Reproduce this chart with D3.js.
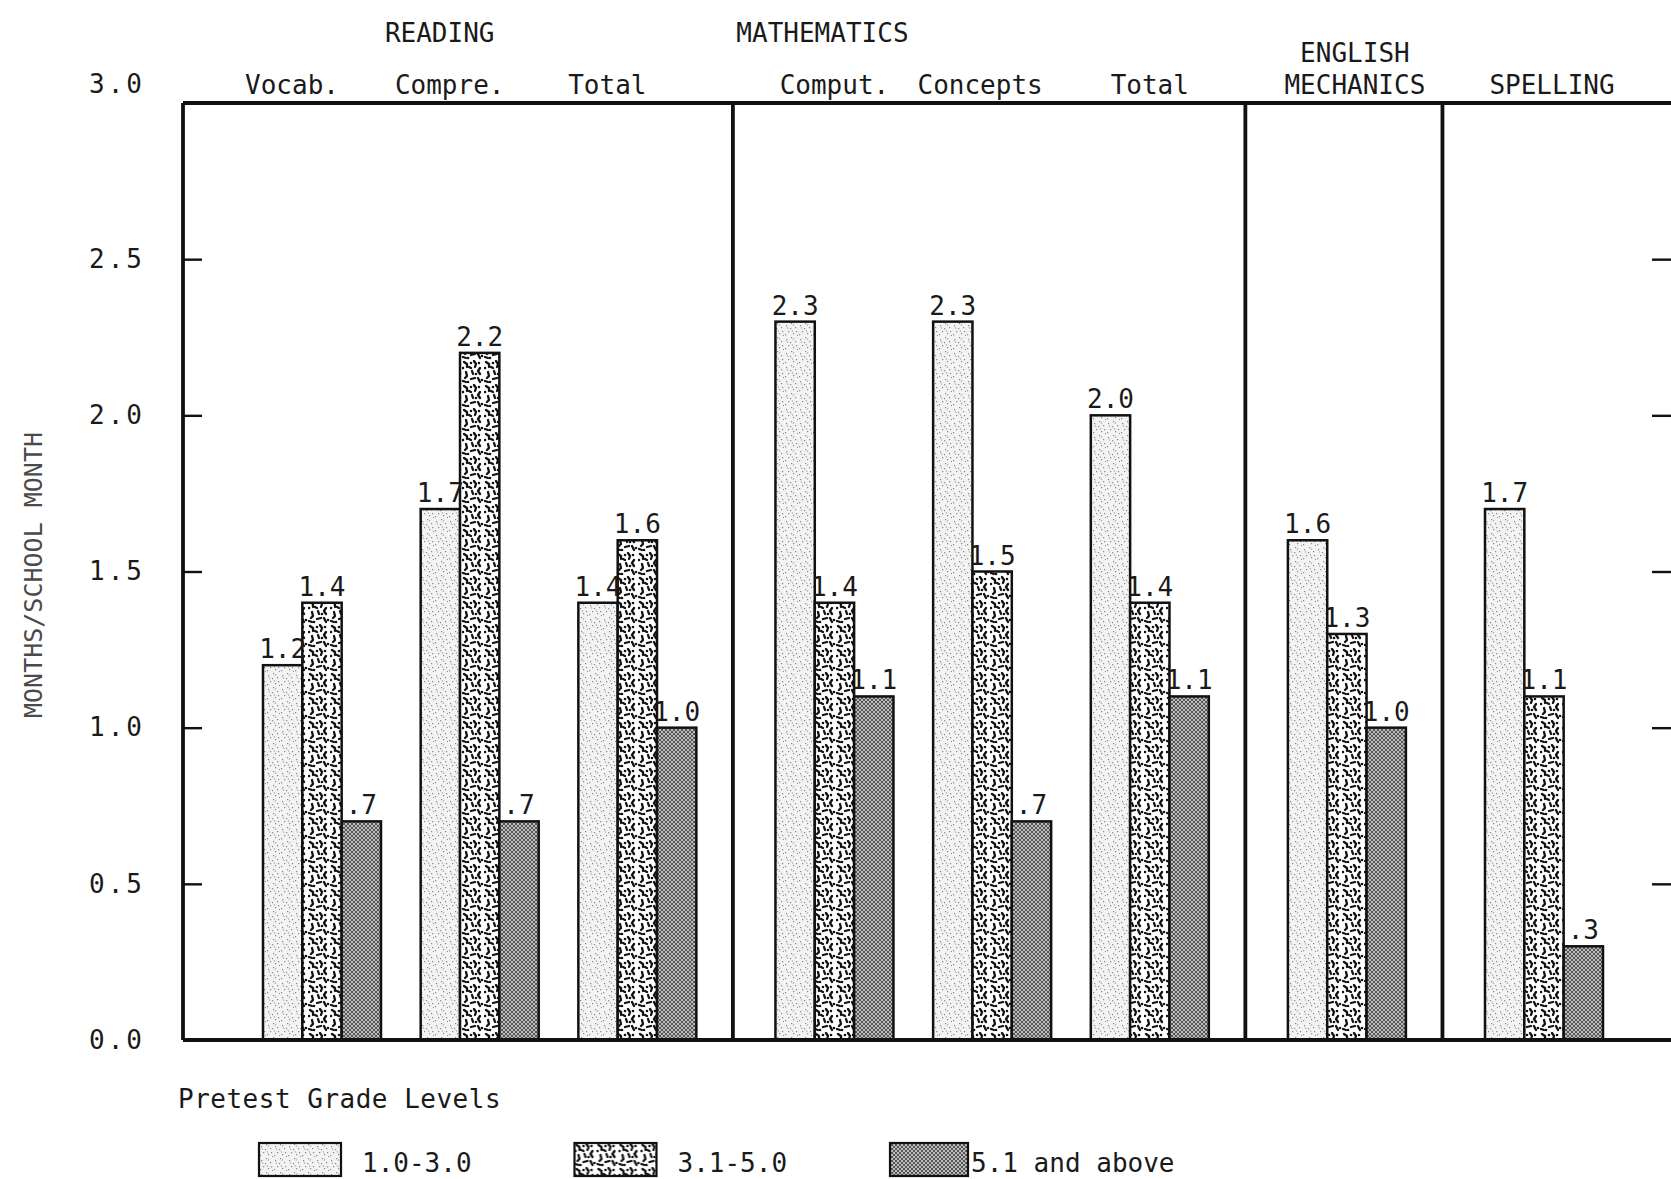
<!DOCTYPE html>
<html>
<head>
<meta charset="utf-8">
<script src="https://cdn.jsdelivr.net/npm/d3@7"></script>
<style>
  html, body { margin: 0; padding: 0; background: #fff; }
  svg { display: block; }
  text { font-family: "DejaVu Sans Mono", "Liberation Mono", monospace; fill: #1a1a1a; }
</style>
</head>
<body>
<svg id="chart" width="1671" height="1179"></svg>
<script>
// ---- data ----
const sections = ["READING", "MATHEMATICS", "ENGLISH\nMECHANICS", "SPELLING"];
const categories = ["Vocab.", "Compre.", "Total", "Comput.", "Concepts", "Total ", "ENGLISH MECHANICS", "SPELLING"];
const categorySection = [0, 0, 0, 1, 1, 1, 2, 3];
const categoryLabels = ["Vocab.", "Compre.", "Total", "Comput.", "Concepts", "Total", "", ""];
const series = ["1.0-3.0", "3.1-5.0", "5.1 and above"];
const grade1to3 = [1.2, 1.7, 1.4, 2.3, 2.3, 2.0, 1.6, 1.7];
const grade3to5 = [1.4, 2.2, 1.6, 1.4, 1.5, 1.4, 1.3, 1.1];
const grade5plus = [0.7, 0.7, 1.0, 1.1, 0.7, 1.1, 1.0, 0.3];
const yTicks = [0, 0.5, 1.0, 1.5, 2.0, 2.5, 3.0];
const yTitle = "MONTHS/SCHOOL MONTH";
const legendTitle = "Pretest Grade Levels";

const values = [grade1to3, grade3to5, grade5plus];

// ---- layout ----
const W = 1671, H = 1179;
const frameLeft = 183, frameRight = 1671, frameTop = 103, frameBottom = 1040;
const svg = d3.select("#chart");

const y = d3.scaleLinear().domain([0, 3]).range([frameBottom, frameTop]);
// slot position: category index plus an extra gap for each section boundary
const slot = categories.map((c, i) => i + categorySection[i] * 0.25);
const xg = d3.scaleLinear().domain([0, d3.max(slot)]).range([263, 1485]);
const groupW = 118;
const xb = d3.scaleBand().domain(series).range([0, groupW]).padding(0);

// ---- patterns ----
const defs = svg.append("defs");
// pattern 1: light stipple
const p1 = defs.append("pattern").attr("id", "pat0").attr("patternUnits", "userSpaceOnUse")
  .attr("width", 14).attr("height", 14);
p1.append("rect").attr("width", 14).attr("height", 14).attr("fill", "#f3f3f3");
[[2,3],[7,1],[11,5],[4,9],[9,11],[13,13],[1,12],[6,6],[12,9]].forEach(([a,b]) =>
  p1.append("rect").attr("x", a).attr("y", b).attr("width", 1.2).attr("height", 1.2).attr("fill", "#888"));
p1.append("path").attr("d", "M3,5 l1,2 M10,2 l-1,2 M8,8 l1,2").attr("stroke", "#aaa").attr("stroke-width", 0.9);

// pattern 2: black blotches on white
const p2 = defs.append("pattern").attr("id", "pat1").attr("patternUnits", "userSpaceOnUse")
  .attr("width", 22).attr("height", 24);
p2.append("rect").attr("width", 22).attr("height", 24).attr("fill", "#fff");
p2.append("path")
  .attr("d", "M2,2 l3,2 l0,3 M12,1 l2,3 l-1,3 M18,8 l-2,3 l2,3 M4,12 l1,4 l-2,2 M9,19 l4,-1 M16,18 l2,4 M7,7 l2,1 M10,11 l1,3 M1,21 l3,1")
  .attr("stroke", "#111").attr("stroke-width", 2.3).attr("fill", "none").attr("stroke-linecap", "round").attr("stroke-linejoin", "round");
[[9,3],[17,3],[6,22],[14,14],[20,20],[1,8]].forEach(([a,b]) =>
  p2.append("circle").attr("cx", a).attr("cy", b).attr("r", 1.3).attr("fill", "#111"));

// pattern 3: fine cross-hatch
const p3 = defs.append("pattern").attr("id", "pat2").attr("patternUnits", "userSpaceOnUse")
  .attr("width", 4).attr("height", 4);
p3.append("rect").attr("width", 4).attr("height", 4).attr("fill", "#bdbdbd");
p3.append("path").attr("d", "M0,0 L4,4 M4,0 L0,4").attr("stroke", "#3a3a3a").attr("stroke-width", 0.8);

const patternFor = s => `url(#pat${series.indexOf(s)})`;

// ---- bars ----
const bars = categories.flatMap((c, i) => series.map((s, k) => ({ c, i, s, v: values[k][i] })));
const fmtVal = v => v < 1 ? d3.format(".1f")(v).replace(/^0/, "") : d3.format(".1f")(v);

const gBars = svg.append("g");
gBars.selectAll("rect").data(bars).join("rect")
  .attr("x", d => xg(slot[d.i]) + xb(d.s))
  .attr("y", d => y(d.v))
  .attr("width", xb.bandwidth())
  .attr("height", d => y(0) - y(d.v))
  .attr("fill", d => patternFor(d.s))
  .attr("stroke", "#111").attr("stroke-width", 2.5);

gBars.selectAll("text").data(bars).join("text")
  .attr("x", d => xg(slot[d.i]) + xb(d.s) + xb.bandwidth() / 2)
  .attr("y", d => y(d.v) - 7)
  .attr("text-anchor", "middle")
  .attr("font-size", 26)
  .text(d => fmtVal(d.v));

// ---- frame ----
const frame = svg.append("g").attr("stroke", "#111").attr("fill", "none");
frame.append("line").attr("x1", frameLeft).attr("x2", frameRight).attr("y1", frameTop).attr("y2", frameTop).attr("stroke-width", 3.8);
frame.append("line").attr("x1", frameLeft).attr("x2", frameRight).attr("y1", frameBottom).attr("y2", frameBottom).attr("stroke-width", 3.8);
frame.append("line").attr("x1", frameLeft).attr("x2", frameLeft).attr("y1", frameTop).attr("y2", frameBottom).attr("stroke-width", 3.8);

// section dividers: midway between last group of a section and first of the next
for (let i = 1; i < categories.length; i++) {
  if (categorySection[i] !== categorySection[i - 1]) {
    const xd = ((xg(slot[i - 1]) + groupW) + xg(slot[i])) / 2 - 3;
    frame.append("line").attr("x1", xd).attr("x2", xd).attr("y1", frameTop).attr("y2", frameBottom).attr("stroke-width", 3.8);
  }
}

// ---- axes ----
const yAxis = d3.axisLeft(y).tickValues(yTicks).tickFormat(d3.format(".1f"))
  .tickSizeInner(-19).tickSizeOuter(0).tickPadding(38);
const gy = svg.append("g").attr("transform", `translate(${frameLeft},0)`).call(yAxis);
gy.select(".domain").remove();
gy.selectAll(".tick line").attr("stroke", "#111").attr("stroke-width", 2.4);
gy.selectAll(".tick text").attr("font-size", 26).attr("letter-spacing", 3)
  .attr("font-family", "'DejaVu Sans Mono', monospace").attr("fill", "#1a1a1a");
gy.selectAll(".tick").filter(d => d === 3).select("text").attr("dy", "-0.4em");

const yAxisR = d3.axisRight(y).tickValues(yTicks.filter(t => t > 0 && t < 3)).tickFormat("")
  .tickSizeInner(-19).tickSizeOuter(0);
const gyr = svg.append("g").attr("transform", `translate(${frameRight},0)`).call(yAxisR);
gyr.select(".domain").remove();
gyr.selectAll(".tick line").attr("stroke", "#111").attr("stroke-width", 2.4);

// y title
svg.append("text")
  .attr("transform", `translate(42,575) rotate(-90)`)
  .attr("text-anchor", "middle")
  .attr("font-size", 25).style("fill", "#4a4a4a")
  .text(yTitle);

// ---- category labels ----
const sectionNudge = s => s === 0 ? -30 : 0;
svg.append("g").selectAll("text").data(categories.map((c, i) => ({ c, i })))
  .join("text")
  .attr("x", d => xg(slot[d.i]) + groupW / 2 + sectionNudge(categorySection[d.i]) + (d.i === 4 ? -12 : 0))
  .attr("y", 94)
  .attr("text-anchor", "middle").attr("font-size", 26)
  .text(d => categoryLabels[d.i]);

// section headers
const headerAnchor = { 0: 1, 1: 3 };
sections.forEach((name, s) => {
  const lines = name.split("\n");
  const idx = categorySection.indexOf(s);
  const last = categorySection.lastIndexOf(s);
  let cx, baseY;
  if (s in headerAnchor) {
    cx = xg(slot[headerAnchor[s]]) + groupW / 2 + (s === 0 ? -40 : -12);
    baseY = 42;
  } else {
    cx = (xg(slot[idx]) + xg(slot[last]) + groupW) / 2 + 8;
    baseY = 94 - (lines.length - 1) * 32;
  }
  lines.forEach((ln, j) => {
    svg.append("text").attr("x", cx).attr("y", baseY + j * 32)
      .attr("text-anchor", "middle").attr("font-size", 26).text(ln);
  });
});

// ---- legend ----
svg.append("text").attr("x", 178).attr("y", 1108).attr("font-size", 26).attr("letter-spacing", 0.5).text(legendTitle);
const lx = d3.scalePoint().domain(series).range([259, 890]);
const lg = svg.append("g").selectAll("g").data(series).join("g")
  .attr("transform", d => `translate(${lx(d)},1143)`);
lg.append("rect").attr("width", d => series.indexOf(d) === 2 ? 78 : 82).attr("height", 33)
  .attr("fill", d => patternFor(d)).attr("stroke", "#111").attr("stroke-width", 2.2);
lg.append("text").attr("x", d => series.indexOf(d) === 2 ? 81 : 103).attr("y", 29)
  .attr("font-size", 26).text(d => d);
</script>
</body>
</html>
